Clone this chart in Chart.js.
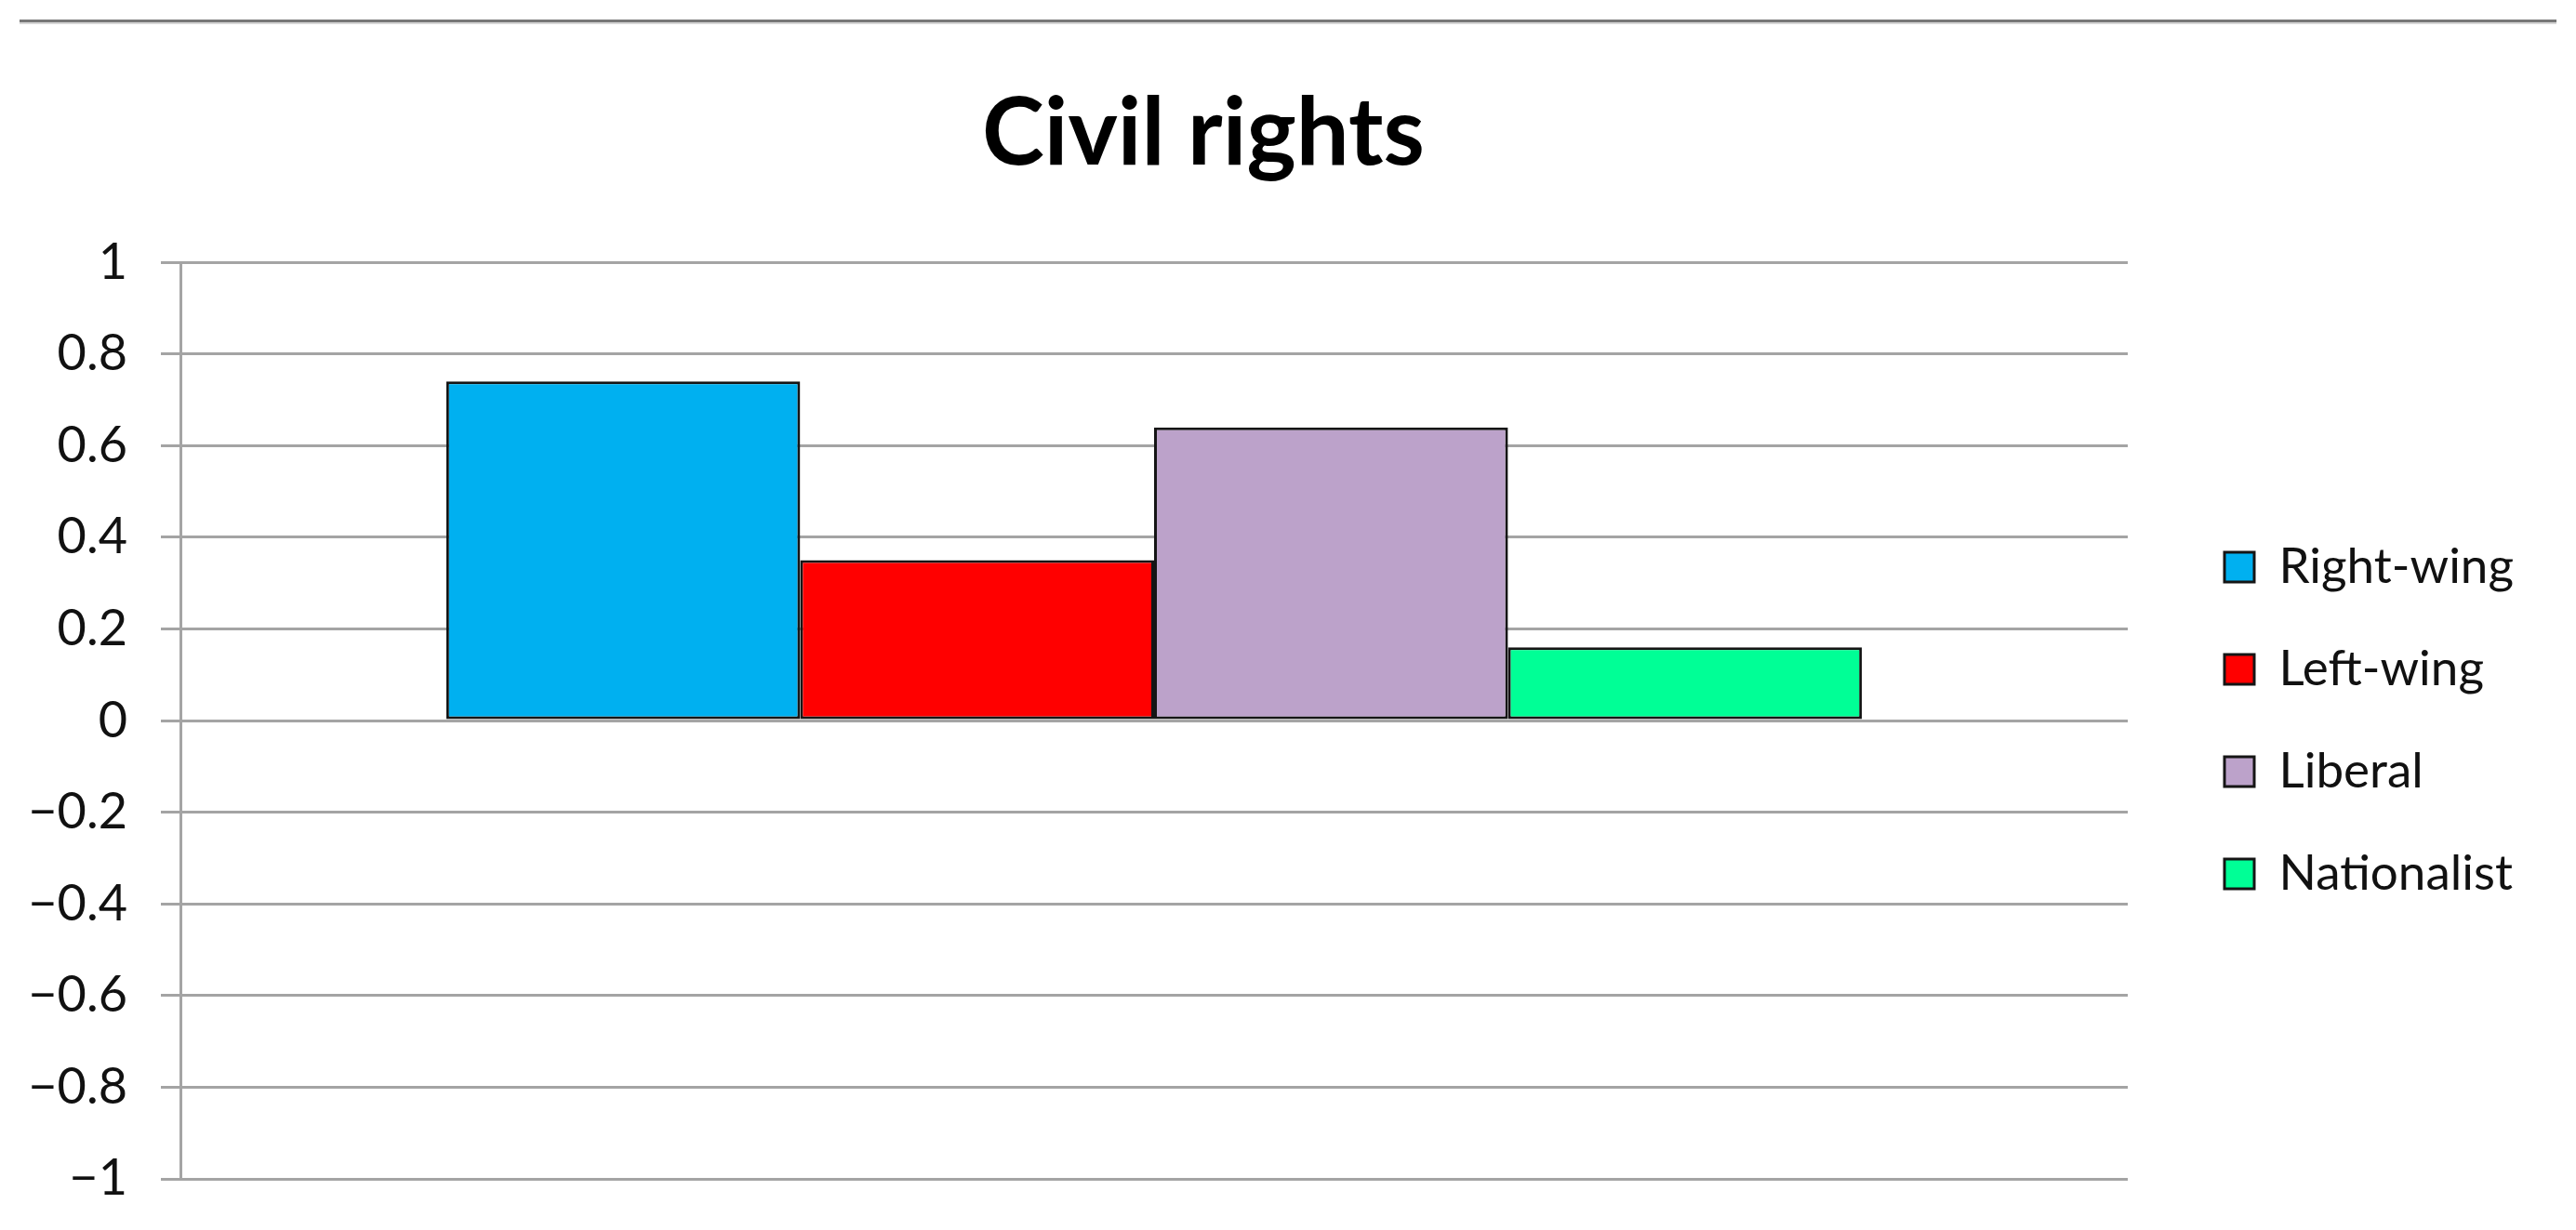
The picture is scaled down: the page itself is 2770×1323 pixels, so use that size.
<!DOCTYPE html>
<html>
<head>
<meta charset="utf-8">
<script src="https://cdn.jsdelivr.net/npm/chart.js@4.4.1/dist/chart.umd.min.js"></script>
<style>
  html, body { margin: 0; padding: 0; background: #fff; }
  #wrap { position: relative; width: 2770px; height: 1323px; }
  #topRule {
    position: absolute; left: 21px; top: 21px; width: 2728px; height: 3px;
    background: #787878; border-bottom: 2px solid #d6d6d6;
  }
  canvas { position: absolute; left: 0; top: 0; }
</style>
</head>
<body>
<div id="wrap">
  <div id="topRule"></div>
  <canvas id="chart" width="2770" height="1323"></canvas>
</div>
<script>
// data
const categories = ['Civil rights'];
const seriesNames = ['Right-wing', 'Left-wing', 'Liberal', 'Nationalist'];
const seriesValues = [0.74, 0.35, 0.64, 0.16];
const seriesColors = ['#00b0f0', '#ff0000', '#bca2ca', '#00ff96'];
const yTickLabels = ['\u22121', '\u22120.8', '\u22120.6', '\u22120.4', '\u22120.2', '0',
                     '0.2', '0.4', '0.6', '0.8', '1'];

const FONT = 'Lato, "Open Sans", sans-serif';
const GRID = '#a4a4a4';

// legend sits further right of the plot than chart.js puts it,
// and its labels must not be clipped by the narrow box
const legendShift = {
  id: 'legendShift',
  afterLayout(chart) {
    chart.legend.left += 47;
    chart.legend.right = chart.width;
  }
};

new Chart(document.getElementById('chart'), {
  type: 'bar',
  data: {
    labels: categories,
    datasets: seriesNames.map((name, i) => ({
      label: name,
      data: [seriesValues[i]],
      backgroundColor: seriesColors[i],
      borderColor: '#151515',
      borderWidth: 3,
      borderSkipped: false,
      categoryPercentage: 0.727,
      barPercentage: 1.0
    }))
  },
  options: {
    responsive: false,
    devicePixelRatio: 1,
    animation: false,
    layout: { padding: { top: 0, left: 0, right: 182, bottom: 55 } },
    scales: {
      x: { display: false },
      y: {
        min: -1,
        max: 1,
        afterFit: (scale) => {
          scale.width = 194;
          // tick padding should not push the plot edges in
          scale.paddingTop = 0;
          scale.paddingBottom = 0;
        },
        ticks: {
          stepSize: 0.2,
          padding: 36,
          color: '#111',
          font: { family: FONT, size: 54 },
          callback: (v, i) => yTickLabels[i]
        },
        grid: { color: GRID, lineWidth: 3, tickLength: 21, drawTicks: true },
        border: { display: true, color: GRID, width: 3 }
      }
    },
    plugins: {
      title: {
        display: true,
        text: 'Civil rights',
        color: '#000',
        font: { family: FONT, size: 101, weight: 'bold' },
        padding: { top: 84, bottom: 77 }
      },
      legend: {
        position: 'right',
        fullSize: false,
        maxWidth: 300,
        labels: {
          boxWidth: 32,
          boxHeight: 32,
          padding: 57,
          color: '#111',
          font: { family: FONT, size: 53 }
        }
      },
      tooltip: { enabled: false }
    }
  },
  plugins: [legendShift]
});
</script>
</body>
</html>
